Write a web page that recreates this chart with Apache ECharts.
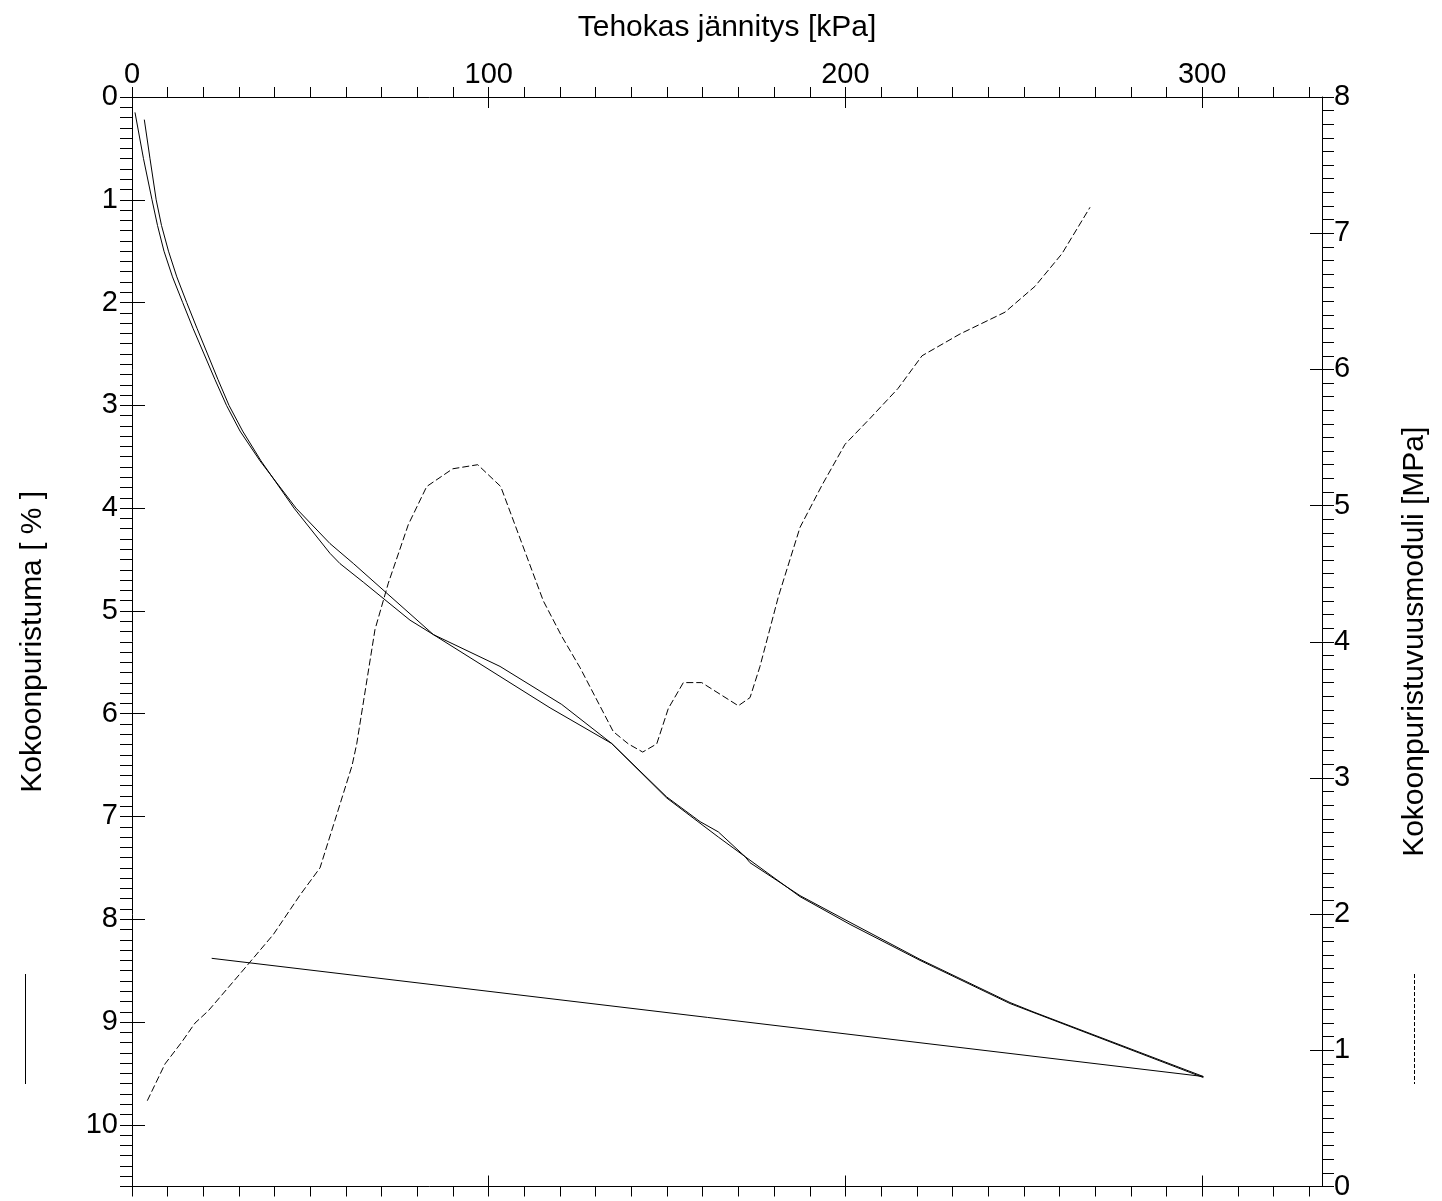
<!DOCTYPE html>
<html>
<head>
<meta charset="utf-8">
<title>Kokoonpuristuskoe</title>
<script src="https://cdn.jsdelivr.net/npm/echarts@6/dist/echarts.min.js"></script>
<style>
  html, body { margin: 0; padding: 0; background: #ffffff; }
  #chart { width: 1442px; height: 1201px; }
</style>
</head>
<body>
<div id="chart"></div>
<script>
// Measured loading curve: effective stress [kPa] and compression [%]
const measuredStress = [3.45, 5.05, 6.78, 8.27, 10.23, 12.56, 15.34, 18.22, 21.17, 24.11, 27.19, 31.01,
  36.16, 45.42, 55.51, 58.31, 64.84, 77.94, 84.47, 103.17, 120.47, 134.48, 149.90, 159.24,
  164.37, 171.85, 173.26, 187.27, 201.29, 220.91, 246.14, 252.59, 300.34];
const measuredStrain = [0.22, 0.60, 1.00, 1.25, 1.50, 1.75, 2.00, 2.25, 2.50, 2.75, 3.00, 3.25,
  3.54, 4.00, 4.44, 4.54, 4.72, 5.09, 5.23, 5.54, 5.91, 6.29, 6.81, 7.05,
  7.15, 7.39, 7.45, 7.77, 8.03, 8.39, 8.81, 8.90, 9.53];

// Unloading from the last load step
const unloadStress = [300.34, 22.34];
const unloadStrain = [9.53, 8.38];

// Fitted compression curve
const fittedStress = [0.84, 3.22, 5.61, 7.15, 8.97, 11.35, 14.21, 17.10, 20.19, 23.27, 26.49, 30.28,
  35.88, 45.98, 55.51, 62.04, 84.47, 117.19, 134.48, 149.90, 164.37, 171.85, 187.27, 201.29,
  220.91, 246.14, 300.34];
const fittedStrain = [0.15, 0.60, 1.00, 1.25, 1.50, 1.75, 2.00, 2.25, 2.50, 2.75, 3.00, 3.25,
  3.54, 4.00, 4.345, 4.538, 5.23, 5.943, 6.29, 6.82, 7.20, 7.39, 7.78, 8.05,
  8.40, 8.82, 9.54];

// Constrained (oedometer) modulus [MPa] against effective stress [kPa]
const modulusStress = [4.29, 9.25, 13.93, 17.66, 21.39, 31.20, 39.61, 47.10, 52.71, 56.91, 61.68, 63.00,
  68.12, 71.85, 77.46, 82.62, 89.91, 96.92, 103.36, 115.31, 120.47, 125.60, 134.93, 139.14,
  143.17, 147.10, 150.35, 154.56, 159.71, 169.97, 173.26, 176.06, 181.19, 187.27, 193.44, 199.89,
  206.90, 214.75, 221.48, 232.13, 244.74, 253.15, 260.72, 268.57];
const modulusValue = [0.63, 0.90, 1.06, 1.20, 1.29, 1.59, 1.85, 2.14, 2.34, 2.69, 3.09, 3.25,
  4.09, 4.43, 4.86, 5.14, 5.27, 5.30, 5.14, 4.30, 4.04, 3.81, 3.34, 3.25,
  3.19, 3.25, 3.51, 3.70, 3.70, 3.53, 3.59, 3.82, 4.33, 4.84, 5.15, 5.45,
  5.64, 5.86, 6.10, 6.26, 6.42, 6.61, 6.85, 7.19];

// Axis ranges and tick steps
const stressMax = 333.6, stressStep = 100, stressMinorStep = 10;
const strainMax = 10.6, strainStep = 1, strainMinorStep = 0.1;
const modulusMax = 8, modulusStep = 1, modulusMinorStep = 0.1;

const stressMinorTicks = [];
for (let v = 0; v <= 330; v += stressMinorStep) stressMinorTicks.push(v);

const pairs = (xs, ys) => xs.map((x, i) => [x, ys[i]]);

const FONT = '"Liberation Sans", Arial, Helvetica, sans-serif';
const INK = '#000000';
const line = { show: true, onZero: false, lineStyle: { color: INK, width: 1 } };
const noLine = { show: false, onZero: false };

// fine (outer) tick axis
function fineX(position) {
  return {
    type: 'value', position, min: 0, max: stressMax, interval: stressMinorStep,
    axisLine: line,
    axisTick: { show: true, inside: false, length: 10, customValues: stressMinorTicks,
      lineStyle: { color: INK, width: 1 } },
    axisLabel: { show: false }, splitLine: { show: false }
  };
}
// major (inner) tick axis
function majorX(position, withLabels) {
  return {
    type: 'value', position, min: 0, max: stressMax, interval: stressStep,
    axisLine: noLine,
    axisTick: { show: true, inside: true, length: 11, lineStyle: { color: INK, width: 1 } },
    axisLabel: { show: withLabels, margin: 8, fontSize: 29, color: INK, fontFamily: FONT,
      showMinLabel: true, showMaxLabel: false },
    splitLine: { show: false }
  };
}

const chart = echarts.init(document.getElementById('chart'), null, { renderer: 'canvas' });

chart.setOption({
  animation: false,
  backgroundColor: '#ffffff',
  textStyle: { fontFamily: FONT, color: INK },
  grid: { left: 132, right: 120, top: 97, bottom: 8, containLabel: false },
  xAxis: [
    fineX('top'),
    Object.assign(majorX('top', true), {
      name: 'Tehokas jännitys [kPa]', nameLocation: 'middle', nameGap: 54,
      nameTextStyle: { fontSize: 30, color: INK, fontFamily: FONT }
    }),
    fineX('bottom'),
    majorX('bottom', false)
  ],
  yAxis: [
    {
      type: 'value', position: 'left', inverse: true, min: 0, max: strainMax, interval: strainMinorStep,
      axisLine: line,
      axisTick: { show: true, inside: false, length: 12, lineStyle: { color: INK, width: 1 } },
      axisLabel: { show: false }, splitLine: { show: false }
    },
    {
      type: 'value', position: 'left', inverse: true, min: 0, max: strainMax, interval: strainStep,
      axisLine: noLine,
      axisTick: { show: true, inside: true, length: 13, lineStyle: { color: INK, width: 1 } },
      axisLabel: { show: true, margin: 14, fontSize: 29, color: INK, fontFamily: FONT,
        showMinLabel: true, showMaxLabel: false },
      splitLine: { show: false },
      name: 'Kokoonpuristuma [ % ]', nameLocation: 'middle', nameRotate: 90, nameGap: 84,
      nameTextStyle: { fontSize: 30, color: INK, fontFamily: FONT }
    },
    {
      type: 'value', position: 'right', min: 0, max: modulusMax, interval: modulusMinorStep,
      axisLine: line,
      axisTick: { show: true, inside: false, length: 12, lineStyle: { color: INK, width: 1 } },
      axisLabel: { show: false }, splitLine: { show: false }
    },
    {
      type: 'value', position: 'right', min: 0, max: modulusMax, interval: modulusStep,
      axisLine: noLine,
      axisTick: { show: true, inside: true, length: 12, lineStyle: { color: INK, width: 1 } },
      axisLabel: { show: true, margin: 12, fontSize: 29, color: INK, fontFamily: FONT,
        verticalAlign: 'middle', showMinLabel: true, showMaxLabel: true },
      splitLine: { show: false },
      name: 'Kokoonpuristuvuusmoduli [MPa]', nameLocation: 'middle', nameRotate: 90, nameGap: 78,
      nameTextStyle: { fontSize: 30, color: INK, fontFamily: FONT }
    }
  ],
  series: [
    {
      name: 'Kokoonpuristuma', type: 'line', xAxisIndex: 0, yAxisIndex: 0,
      data: pairs(measuredStress, measuredStrain),
      symbol: 'none', lineStyle: { color: INK, width: 1 }
    },
    {
      name: 'Palautus', type: 'line', xAxisIndex: 0, yAxisIndex: 0,
      data: pairs(unloadStress, unloadStrain),
      symbol: 'none', lineStyle: { color: INK, width: 1 }
    },
    {
      name: 'Sovitus', type: 'line', xAxisIndex: 0, yAxisIndex: 0,
      data: pairs(fittedStress, fittedStrain),
      symbol: 'none', lineStyle: { color: INK, width: 1 }
    },
    {
      name: 'Kokoonpuristuvuusmoduli', type: 'line', xAxisIndex: 0, yAxisIndex: 2,
      data: pairs(modulusStress, modulusValue),
      symbol: 'none', lineStyle: { color: INK, width: 1, type: [7, 3] }
    }
  ],
  // line keys beside the two vertical axis titles
  graphic: [
    { type: 'line', silent: true, shape: { x1: 25.5, y1: 974, x2: 25.5, y2: 1084 },
      style: { stroke: INK, lineWidth: 1 } },
    { type: 'line', silent: true, shape: { x1: 1414.5, y1: 974, x2: 1414.5, y2: 1084 },
      style: { stroke: INK, lineWidth: 1, lineDash: [4, 2] } }
  ]
});
</script>
</body>
</html>
